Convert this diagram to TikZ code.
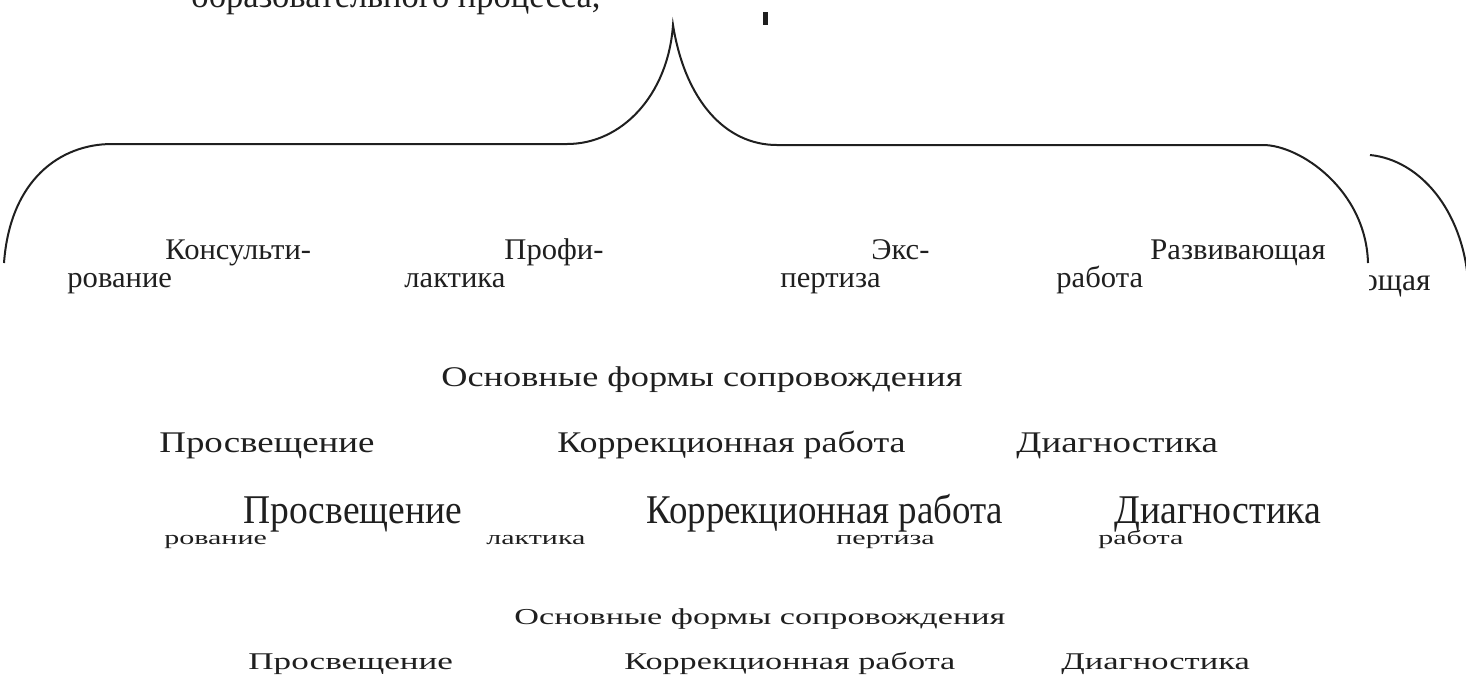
\documentclass[tikz,border=0pt]{standalone}
\usepackage{fontspec}
\setmainfont{Liberation Serif}
\usepackage{graphicx}
\usepackage{tikz}
\usetikzlibrary{positioning}
\definecolor{ink}{gray}{0.12}
\newcommand{\stretched}[3]{\scalebox{#1}[#2]{#3}}

\begin{document}
\begin{tikzpicture}[
    x=0.5pt, y=-0.5pt,
    word/.style={inner sep=0pt, anchor=base west, text=ink, font=\fontsize{15pt}{18pt}\selectfont},
    brace/.style={draw=ink, line width=1pt},
  ]
  \useasboundingbox (0,0) rectangle (1466,676);
  \clip (0,0) rectangle (1466,676);

  % cut-off heading line
  \node[word] (heading) at (191,7) {\stretched{1.15}{1.15}{образовательного процесса,}};
  \fill[ink] (763,12) rectangle (768,25);

  % brace
  \draw[brace] (4,263) .. controls (10,180) and (60,144) .. (112,144)
    -- (567,144) .. controls (622,144) and (668,95) .. (673,25)
    .. controls (685,100) and (725,145) .. (777,145)
    -- (1263,145) .. controls (1300,145) and (1366,190) .. (1368,263);
  \draw[brace] (1370,155) .. controls (1420,160) and (1462,210) .. (1468,280);

  % forms under the brace
  \node[word] (kons1) at (165,259) {\stretched{1.02}{1}{Консульти-}};
  \node[word] (kons2) at (67,287) {\stretched{1.02}{1}{рование}};
  \node[word] (prof1) at (504,259) {\stretched{1.02}{1}{Профи-}};
  \node[word] (prof2) at (404,287) {\stretched{1.02}{1}{лактика}};
  \node[word] (exp1) at (871,259) {\stretched{1.02}{1}{Экс-}};
  \node[word] (exp2) at (780,287) {\stretched{1.02}{1}{пертиза}};
  \node[word] (razv1) at (1150,259) {\stretched{1.02}{1}{Развивающая}};
  \node[word] (razv2) at (1056,287) {\stretched{1.02}{1}{работа}};
  \begin{scope}
    \clip (1369,0) rectangle (1466,676);
    \node[word] (razvcut) at (1354,290) {\stretched{1.05}{1.05}{ющая}};
  \end{scope}

  % first copy
  \node[word] (formsA) at (441,386) {\stretched{1.21}{0.95}{Основные формы сопровождения}};
  \node[word] (prosvA) at (159,452) {\stretched{1.23}{1}{Просвещение}};
  \node[word] (korrA) at (557,452) {\stretched{1.2}{1}{Коррекционная работа}};
  \node[word] (diagA) at (1016,452) {\stretched{1.23}{1}{Диагностика}};

  % second copy
  \node[word] (prosvB) at (243,523) {\stretched{1.25}{1.36}{Просвещение}};
  \node[word] (korrB) at (646,523) {\stretched{1.23}{1.36}{Коррекционная работа}};
  \node[word] (diagB) at (1114,523) {\stretched{1.26}{1.36}{Диагностика}};
  \node[word] (kons3) at (164,544) {\stretched{1}{0.65}{рование}};
  \node[word] (prof3) at (486,544) {\stretched{1}{0.65}{лактика}};
  \node[word] (exp3) at (836,544) {\stretched{1}{0.65}{пертиза}};
  \node[word] (razv3) at (1098,544) {\stretched{1}{0.65}{работа}};

  % third copy
  \node[word] (formsC) at (514,624) {\stretched{1.14}{0.76}{Основные формы сопровождения}};
  \node[word] (prosvC) at (248,669) {\stretched{1.17}{0.8}{Просвещение}};
  \node[word] (korrC) at (624,669) {\stretched{1.14}{0.8}{Коррекционная работа}};
  \node[word] (diagC) at (1061,669) {\stretched{1.15}{0.8}{Диагностика}};
\end{tikzpicture}
\end{document}
